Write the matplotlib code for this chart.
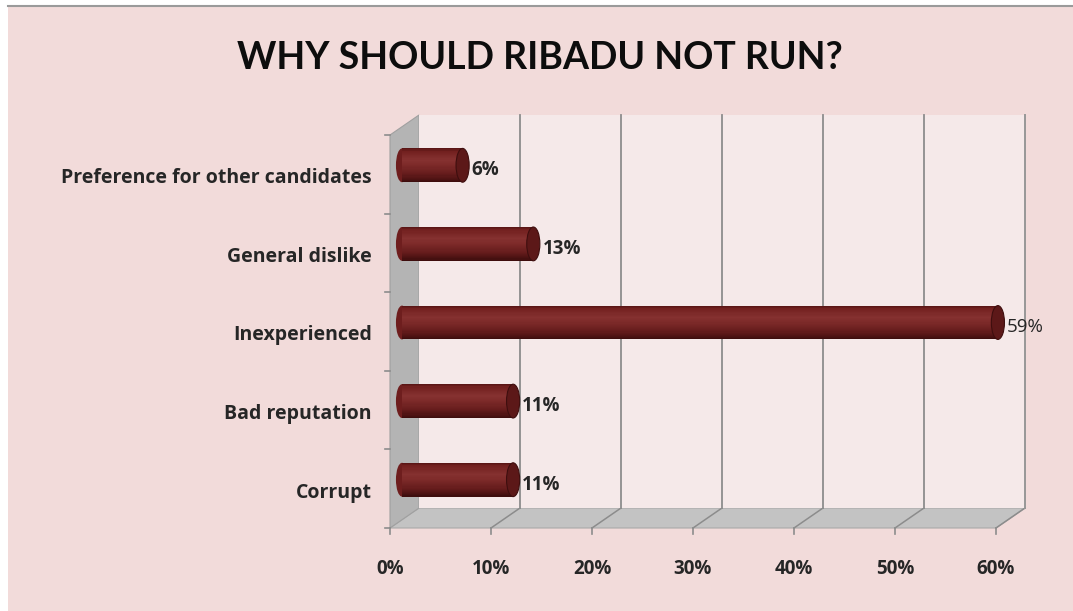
import matplotlib
matplotlib.use("Agg")
import matplotlib.pyplot as plt
import matplotlib.transforms as mtransforms
from matplotlib.colors import LinearSegmentedColormap
from matplotlib.patches import Polygon, Ellipse, Rectangle
import numpy as np

plt.rcParams['font.family'] = ['Open Sans', 'DejaVu Sans']

# --- data -------------------------------------------------------------
categories = ["Corrupt", "Bad reputation", "Inexperienced",
              "General dislike", "Preference for other candidates"]
values = [11, 11, 59, 13, 6]
value_labels = ["11%", "11%", "59%", "13%", "6%"]
xticks = [0, 10, 20, 30, 40, 50, 60]
xtick_labels = ["0%", "10%", "20%", "30%", "40%", "50%", "60%"]
title = "WHY SHOULD RIBADU NOT RUN?"

# --- figure -----------------------------------------------------------
W, H, DPI = 1073, 611, 100
fig = plt.figure(figsize=(W / DPI, H / DPI), dpi=DPI)
fig.patch.set_facecolor("white")

# pink chart area with a grey top border
bg = Rectangle((8 / W, 0), 1 - 8 / W, 1 - 6 / H, transform=fig.transFigure,
               facecolor="#f2dbda", edgecolor="none", zorder=-10)
fig.patches.append(bg)
fig.lines.append(plt.Line2D([8 / W, 1], [1 - 6 / H, 1 - 6 / H],
                            transform=fig.transFigure, color="#9a9a9a", lw=1.5, zorder=-9))

fig.text(540 / W, 1 - 58 / H, title, ha="center", va="center",
         fontsize=27, fontweight="bold", color="#0d0d0d", family=["Lato", "DejaVu Sans"])

# back wall of the 3-D plot area
left, right, top, bottom = 419, 1025, 115, 508
ax = fig.add_axes([left / W, 1 - bottom / H, (right - left) / W, (bottom - top) / H])
ax.set_zorder(5)
ax.set_xlim(0, 60)
ax.set_ylim(-0.5, len(categories) - 0.5)
ax.set_facecolor("#f5e9e9")
for s in ax.spines.values():
    s.set_visible(False)
ax.set_xticks([])
ax.set_yticks([])


def shift(dx, dy):
    """Offset in pixels (dy positive = downwards on screen)."""
    return ax.transData + mtransforms.ScaledTranslation(dx / DPI, -dy / DPI, fig.dpi_scale_trans)


depth_dx, depth_dy = -29, 20      # back wall -> front edge
bar_dx, bar_dy = -17, 11          # bars sit mid-way in depth
y0, y1 = -0.5, len(categories) - 0.5

disp = ax.transData
fig.canvas.draw()  # fix the layout so pixel positions are final

# back-wall gridlines
for t in xticks[1:]:
    ax.plot([t, t], [y0, y1], color="#8c8c8c", lw=1.3, zorder=1, clip_on=False)

# floor (grey parallelogram)
p_back_l = disp.transform((0, y0))
p_back_r = disp.transform((60, y0))
off = np.array([depth_dx, -depth_dy])
pts = np.array([p_back_l, p_back_r, p_back_r + off, p_back_l + off])
fig.patches.append(Polygon(pts, closed=True, transform=None, facecolor="#c3c3c3",
                           edgecolor="#a9a9a9", lw=0.8, zorder=2))
# floor gridlines
for t in xticks[1:]:
    a = disp.transform((t, y0))
    b = a + off
    fig.lines.append(plt.Line2D([a[0] / W, b[0] / W], [a[1] / H, b[1] / H],
                                transform=fig.transFigure, color="#8c8c8c", lw=1.1, zorder=3))

# left side wall
p_top = disp.transform((0, y1))
side = np.array([p_top, p_back_l, p_back_l + off, p_top + off])
fig.patches.append(Polygon(side, closed=True, transform=None, facecolor="#b4b4b4",
                           edgecolor="#a0a0a0", lw=0.8, zorder=2))
# right edge of back wall
ax.plot([60, 60], [y0, y1], color="#9a9a9a", lw=1.2, zorder=1, clip_on=False)

# front axis ticks
for t in xticks:
    a = disp.transform((t, y0)) + off
    fig.lines.append(plt.Line2D([a[0] / W, a[0] / W], [a[1] / H, (a[1] - 6) / H],
                                transform=fig.transFigure, color="#8c8c8c", lw=1.2, zorder=3))
for k in range(len(categories) + 1):
    a = disp.transform((0, y0 + k)) + off
    fig.lines.append(plt.Line2D([a[0] / W, (a[0] - 5) / W], [a[1] / H, a[1] / H],
                                transform=fig.transFigure, color="#8c8c8c", lw=1.2, zorder=3))

# x tick labels
for t, lab in zip(xticks, xtick_labels):
    a = disp.transform((t, y0)) + off
    fig.text(a[0] / W, (a[1] - 41) / H, lab, ha="center", va="center",
             fontsize=13.5, fontweight="bold", color="#262626")

# category labels
for i, lab in enumerate(categories):
    y_disp = disp.transform((0, i))[1] - (depth_dy + 4)
    fig.text(372 / W, y_disp / H, lab, ha="right", va="center",
             fontsize=14, fontweight="bold", color="#262626")

# cylinder bars: smooth vertical shading built from thin slices
bar_h = 0.43
btr = shift(bar_dx, bar_dy)
shade = LinearSegmentedColormap.from_list(
    "cyl", [(0.0, "#551414"), (0.08, "#72201f"), (0.35, "#853130"),
            (0.5, "#7d2a29"), (0.75, "#661c1c"), (0.92, "#4c1212"), (1.0, "#3a0c0c")])
n = 30
for i, v in enumerate(values):
    for j in range(n):
        yb = i + bar_h / 2 - (j + 1) * bar_h / n
        ax.barh(yb, v, height=bar_h / n * 1.05, left=0, align="edge",
                color=shade((j + 0.5) / n), edgecolor="none", transform=btr,
                zorder=5, clip_on=False)
    ax.add_patch(Ellipse((0, i), 1.2, bar_h, transform=btr, facecolor="#6e1e1e",
                         edgecolor="none", zorder=4, clip_on=False))
    ax.add_patch(Ellipse((v, i), 1.3, bar_h, transform=btr, facecolor="#5c1818",
                         edgecolor="#3e0e0e", lw=0.8, zorder=6, clip_on=False))
    ax.text(v + 0.9, i, value_labels[i], transform=shift(bar_dx, bar_dy + 5),
            ha="left", va="center", fontsize=13.5,
            fontweight="bold" if v < 50 else "normal", color="#262626", zorder=7)

fig.savefig("out.png", dpi=DPI, facecolor=fig.get_facecolor())
